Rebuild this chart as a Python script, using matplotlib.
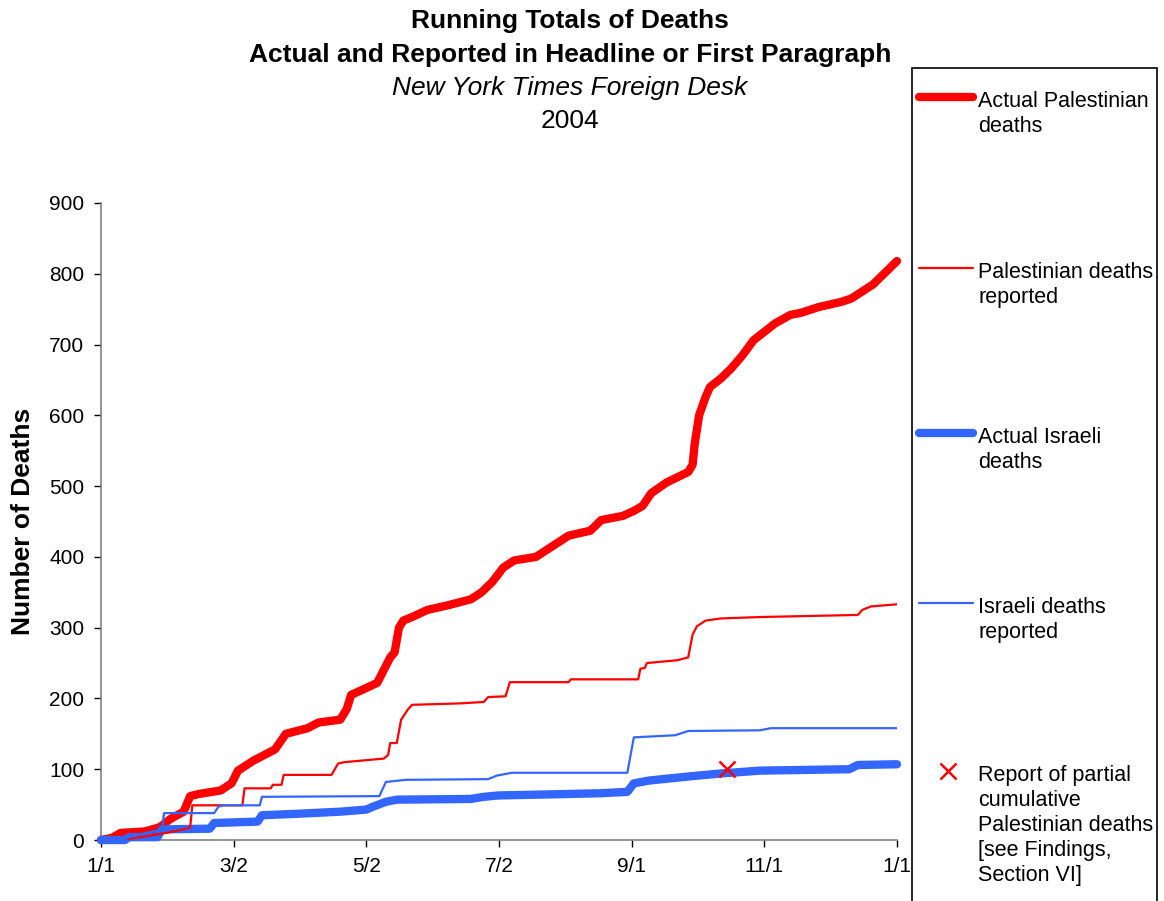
import matplotlib
matplotlib.use("Agg")
import matplotlib.pyplot as plt
from matplotlib.lines import Line2D
from matplotlib.patches import Rectangle

plt.rcParams['font.family'] = ['Liberation Sans', 'DejaVu Sans']

# day of year 2004 (0 = Jan 1), running totals
pal_actual_days = [0, 5, 9, 20, 27, 32, 38, 41, 45, 55, 60, 63, 70, 80, 85, 95, 100, 110, 113, 115,
                   120, 127, 130, 133, 135, 137, 139, 143, 150, 160, 170, 175, 180, 185, 190, 200,
                   205, 210, 215, 225, 230, 240, 245, 249, 253, 260, 270, 272, 273, 275, 278, 280,
                   285, 290, 295, 300, 305, 310, 317, 322, 330, 340, 345, 350, 355, 360, 366]
pal_actual = [0, 3, 10, 12, 18, 30, 40, 62, 65, 70, 80, 98, 112, 128, 150, 158, 166, 170, 185, 205,
              212, 222, 240, 258, 265, 300, 310, 315, 325, 332, 340, 350, 365, 385, 395, 400,
              410, 420, 430, 437, 452, 458, 465, 472, 490, 505, 520, 530, 560, 600, 626, 640,
              652, 667, 685, 706, 718, 730, 742, 745, 753, 760, 765, 775, 785, 800, 818]

pal_rep_days = [0, 10, 20, 30, 38, 41, 42, 65, 66, 78, 79, 83, 84, 106, 109, 112, 130, 132, 133,
                136, 138, 141, 143, 165, 176, 178, 186, 188, 215, 216, 247, 248, 250, 251, 265,
                270, 272, 274, 278, 285, 303, 348, 350, 354, 366]
pal_rep = [0, 0, 5, 10, 15, 18, 49, 49, 73, 73, 78, 78, 92, 92, 108, 110, 115, 120, 137,
           137, 170, 184, 191, 193, 195, 202, 203, 223, 223, 227, 227, 242, 243, 250, 254,
           258, 290, 302, 310, 313, 315, 318, 325, 330, 333]

isr_actual_days = [0, 11, 13, 26, 28, 50, 52, 72, 74, 90, 110, 122, 125, 131, 136, 170, 176, 183,
                   200, 229, 242, 245, 252, 271, 285, 303, 344, 348, 366]
isr_actual = [0, 0, 4, 4, 15, 16, 24, 26, 35, 37, 40, 43, 47, 54, 57, 58, 61, 63,
              64, 66, 68, 80, 84, 90, 94, 98, 100, 106, 107]

isr_rep_days = [0, 10, 14, 18, 28, 29, 52, 54, 56, 73, 74, 128, 131, 140, 178, 182, 189, 242,
                245, 264, 270, 303, 308, 366]
isr_rep = [0, 0, 5, 8, 15, 38, 38, 47, 49, 49, 61, 62, 82, 85, 86, 91, 95, 95,
           145, 148, 154, 155, 158, 158]

report_day = [288]
report_val = [100]

tick_days = [0, 61, 122, 183, 244, 305, 366]
tick_labels = ['1/1', '3/2', '5/2', '7/2', '9/1', '11/1', '1/1']

legend_labels = ['Actual Palestinian\ndeaths', 'Palestinian deaths\nreported',
                 'Actual Israeli\ndeaths', 'Israeli deaths\nreported',
                 'Report of partial\ncumulative\nPalestinian deaths\n[see Findings,\nSection VI]']

RED = '#ff0000'
BLUE = '#3366ff'

fig = plt.figure(figsize=(11.64, 9.01), dpi=100)
ax = fig.add_axes([101 / 1164, 1 - 840 / 901, 796 / 1164, 637 / 901])

ax.plot(pal_actual_days, pal_actual, color=RED, lw=6, solid_capstyle='round', clip_on=False, zorder=3)
ax.plot(pal_rep_days, pal_rep, color=RED, lw=1.6, zorder=4)
ax.plot(isr_actual_days, isr_actual, color=BLUE, lw=6, solid_capstyle='round', clip_on=False, zorder=3)
ax.plot(isr_rep_days, isr_rep, color=BLUE, lw=1.6, zorder=4)
ax.plot(report_day, report_val, 'x', color=RED, ms=11, mew=1.8, zorder=5)

ax.set_xlim(0, 366)
ax.set_ylim(0, 900)
ax.set_xticks(tick_days)
ax.set_xticklabels(tick_labels)
ax.set_yticks(range(0, 901, 100))
ax.tick_params(labelsize=15, length=5, width=1, color='black', direction='out', pad=7)
for s in ['top', 'right']:
    ax.spines[s].set_visible(False)
for s in ['left', 'bottom']:
    ax.spines[s].set_color('#808080')
    ax.spines[s].set_linewidth(1.2)
ax.set_ylabel('Number of Deaths', fontsize=19, fontweight='bold', labelpad=10)

# titles
fig.text(570 / 1164, 1 - 21 / 901, 'Running Totals of Deaths', ha='center', va='center',
         fontsize=19, fontweight='bold')
fig.text(570 / 1164, 1 - 55 / 901, 'Actual and Reported in Headline or First Paragraph',
         ha='center', va='center', fontsize=19, fontweight='bold')
fig.text(570 / 1164, 1 - 88 / 901, 'New York Times Foreign Desk', ha='center', va='center',
         fontsize=19, style='italic')
fig.text(570 / 1164, 1 - 121 / 901, '2004', ha='center', va='center', fontsize=19)

# legend box
fig.patches.append(Rectangle((912 / 1164, -0.02), 245 / 1164, 0.02 + 1 - 68 / 901,
                             transform=fig.transFigure, fill=False, edgecolor='black', lw=1.2))
entry_y = [97, 268, 433, 603, 771]
styles = [(RED, 6), (RED, 1.6), (BLUE, 6), (BLUE, 1.6)]
for i, label in enumerate(legend_labels):
    yf = 1 - entry_y[i] / 901
    if i < 4:
        c, w = styles[i]
        fig.lines.append(Line2D([919 / 1164, 973 / 1164], [yf, yf], color=c, lw=w,
                                solid_capstyle='round', transform=fig.transFigure))
    else:
        fig.lines.append(Line2D([948 / 1164], [yf], marker='x', color=RED, ms=11, mew=1.8,
                                transform=fig.transFigure))
    fig.text(978 / 1164, yf + 6 / 901, label, ha='left', va='top', fontsize=15.5, linespacing=1.25)

fig.savefig('out.png', dpi=100)
